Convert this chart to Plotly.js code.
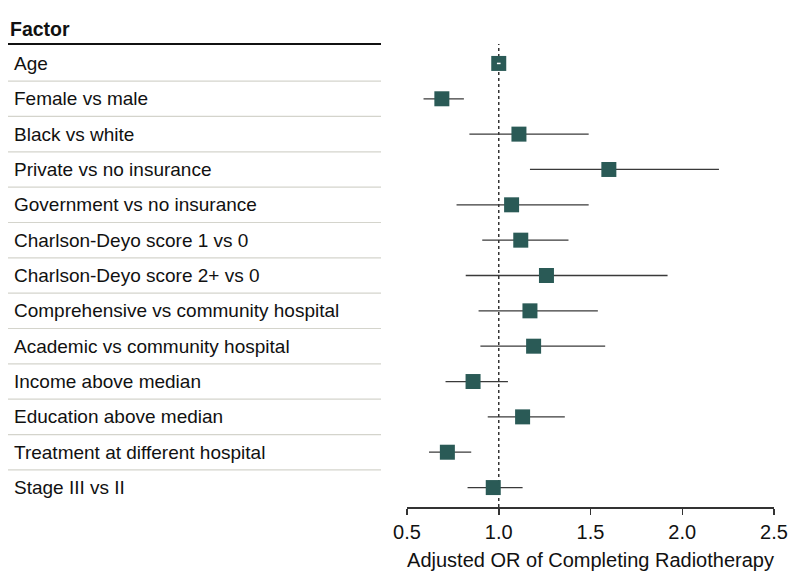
<!DOCTYPE html>
<html><head><meta charset="utf-8">
<script src="https://cdn.plot.ly/plotly-3.0.1.min.js"></script>
<style>html,body{margin:0;padding:0;background:#fff}#chart{width:798px;height:588px}</style>
</head><body><div id="chart"></div>
<script>
const factors = ["Age","Female vs male","Black vs white","Private vs no insurance","Government vs no insurance","Charlson-Deyo score 1 vs 0","Charlson-Deyo score 2+ vs 0","Comprehensive vs community hospital","Academic vs community hospital","Income above median","Education above median","Treatment at different hospital","Stage III vs II"];
const oddsRatio = [1.00,0.69,1.11,1.60,1.07,1.12,1.26,1.17,1.19,0.86,1.13,0.72,0.97];
const ciLower = [0.99,0.59,0.84,1.17,0.77,0.91,0.82,0.89,0.90,0.71,0.94,0.62,0.83];
const ciUpper = [1.01,0.81,1.49,2.20,1.49,1.38,1.92,1.54,1.58,1.05,1.36,0.85,1.13];
const xTicks = [0.5,1.0,1.5,2.0,2.5];
const headerText = "Factor";
const xTitle = "Adjusted OR of Completing Radiotherapy";

const W=798,H=588;
const mL=407,mR=24,mT=44,mB=81;
const pw=W-mL-mR, ph=H-mT-mB;
const yr=[12.55,-0.55];
const fnt="'Liberation Sans', Arial, sans-serif";
function py(i){return (yr[0]-i)/(yr[0]-yr[1]);}
function px(p){return (p-mL)/pw;}

const idx=factors.map((_,i)=>i);
const trace={
  x:oddsRatio, y:idx, type:'scatter', mode:'markers',
  marker:{symbol:'square',size:15,color:'#2a5a56',line:{width:0}},
  error_x:{type:'data',symmetric:false,
    array:oddsRatio.map((v,i)=>ciUpper[i]-v),
    arrayminus:oddsRatio.map((v,i)=>v-ciLower[i]),
    color:'#3a3a3a',thickness:1.3,width:0},
  hoverinfo:'skip'
};
// narrow CI inside the first square drawn in white on top
const trace2={
  x:[oddsRatio[0]], y:[0], type:'scatter', mode:'markers',
  marker:{size:1,opacity:0},
  error_x:{type:'data',symmetric:false,array:[ciUpper[0]-oddsRatio[0]],arrayminus:[oddsRatio[0]-ciLower[0]],
    color:'#ffffff',thickness:1.5,width:0},
  hoverinfo:'skip'
};

const annotations=[];
const shapes=[];
annotations.push({xref:'paper',yref:'paper',x:px(8),y:1+(mT-29)/ph,xanchor:'left',yanchor:'middle',
  text:'<b>'+headerText+'</b>',showarrow:false,font:{family:fnt,size:19.5,color:'#111'}});
shapes.push({type:'line',xref:'paper',yref:'paper',x0:px(8),x1:px(381),y0:1,y1:1,line:{color:'#111',width:2}});
factors.forEach((f,i)=>{
  annotations.push({xref:'paper',yref:'paper',x:px(12),y:py(i),xanchor:'left',yanchor:'middle',
    text:f,showarrow:false,font:{family:fnt,size:19,color:'#111'}});
  if(i<factors.length-1){
    shapes.push({type:'line',xref:'paper',yref:'paper',x0:px(8),x1:px(381),y0:py(i+0.5),y1:py(i+0.5),
      line:{color:'#d4d4cc',width:1.2}});
  }
});
shapes.push({type:'line',xref:'x',yref:'paper',x0:1,x1:1,y0:0,y1:1,layer:'below',
  line:{color:'#333',width:1.5,dash:'dot'}});

const layout={
  width:W,height:H,margin:{l:mL,r:mR,t:mT,b:mB},
  paper_bgcolor:'#fff',plot_bgcolor:'#fff',showlegend:false,
  xaxis:{range:[0.5,2.5],tickvals:xTicks,ticktext:xTicks.map(v=>v.toFixed(1)),
    showgrid:false,zeroline:false,showline:true,linecolor:'#333',linewidth:1.5,
    ticks:'outside',ticklen:6,tickwidth:1.5,tickcolor:'#333',
    tickfont:{family:fnt,size:20,color:'#111'},
    title:{text:xTitle,font:{family:fnt,size:20,color:'#111'},standoff:11}},
  yaxis:{range:yr,visible:false,showgrid:false,zeroline:false},
  annotations:annotations,shapes:shapes
};
Plotly.newPlot('chart',[trace,trace2],layout,{displayModeBar:false,staticPlot:true});
</script></body></html>
